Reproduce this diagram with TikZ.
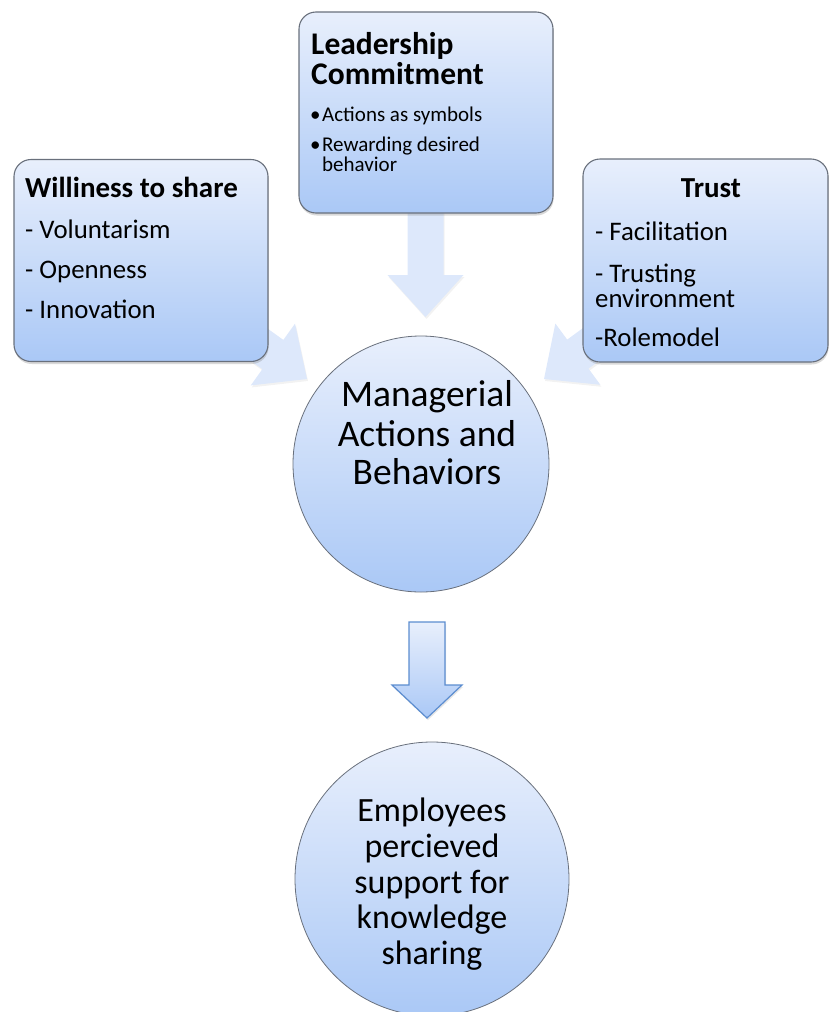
\documentclass[tikz,border=0pt]{standalone}
\usepackage{fontspec}
\setmainfont{Carlito}
\usetikzlibrary{shadows,calc}

\definecolor{boxtop}{RGB}{232,239,252}
\definecolor{boxbot}{RGB}{170,200,246}
\definecolor{edgegray}{RGB}{105,112,124}
\definecolor{pale}{RGB}{221,232,251}
\definecolor{arrowedge}{RGB}{92,141,208}

\tikzset{
  infobox/.style={draw=edgegray, line width=1.1pt, rounded corners=17pt,
    top color=boxtop, bottom color=boxbot, inner sep=0pt,
    drop shadow={opacity=0.3, shadow xshift=0.6pt, shadow yshift=-2.5pt}},
  bubble/.style={circle, draw=edgegray, line width=0.8pt,
    top color=boxtop, bottom color=boxbot, inner sep=0pt},
  feed/.style={fill=pale, drop shadow={opacity=0.1, shadow xshift=1pt, shadow yshift=-2pt}},
  flow/.style={draw=arrowedge, line width=1.2pt, top color=boxtop, bottom color=boxbot,
    drop shadow={opacity=0.2, shadow xshift=1pt, shadow yshift=-2pt}},
  head/.style={font=\bfseries\fontsize{29}{31}\selectfont, inner sep=0pt, anchor=base west},
  bighead/.style={font=\bfseries\fontsize{31.5}{33}\selectfont, inner sep=0pt, anchor=base west},
  item/.style={font=\fontsize{26.8}{28}\selectfont, inner sep=0pt, anchor=base west},
  smallitem/.style={font=\fontsize{21}{23}\selectfont, inner sep=0pt, anchor=base west},
  core/.style={font=\fontsize{37.5}{40}\selectfont, inner sep=0pt, anchor=base},
  coretwo/.style={font=\fontsize{34}{36}\selectfont, inner sep=0pt, anchor=base},
}

% wide pale block arrow from start #1 to tip #2 (shaft 36, head 76 wide, 42 long)
\newcommand{\feedarrow}[2]{%
  \coordinate (hb) at ($(#2)!42pt!(#1)$);
  \path[feed] ($(#1)!18pt!90:(#2)$) -- ($(hb)!18pt!90:(#2)$) -- ($(hb)!38pt!90:(#2)$)
    -- (#2) -- ($(hb)!38pt!-90:(#2)$) -- ($(hb)!18pt!-90:(#2)$)
    -- ($(#1)!18pt!-90:(#2)$) -- cycle;
}

\begin{document}
\begin{tikzpicture}[x=1pt,y=-1pt]
\useasboundingbox (0,0) rectangle (829,1012);

% anchor points of the three feeding arrows
\coordinate (ls) at (141,260);
\coordinate (lt) at (307,379);
\coordinate (ts) at (425.5,150);
\coordinate (tt) at (425.5,317);
\coordinate (rs) at (706,260);
\coordinate (rt) at (544,379);

\feedarrow{ls}{lt}
\feedarrow{ts}{tt}
\feedarrow{rs}{rt}

% three input boxes
\node[infobox, minimum width=254pt, minimum height=202pt] (willbox) at (141,260.5) {};
\node[infobox, minimum width=254pt, minimum height=201pt] (leadbox) at (426,112.5) {};
\node[infobox, minimum width=245pt, minimum height=203pt] (trustbox) at (705.5,260.5) {};

% central and final circles
\node[bubble, minimum size=256pt] (mab) at (421,464) {};
\node[bubble, minimum size=274pt] (eps) at (432,879) {};

% arrow between the two circles
\coordinate (fa) at (427,622);
\coordinate (fb) at (427,718);
\path[flow] ($(fa)+(-18,0)$) -- ($(fa)+(18,0)$) -- ($(fb)+(18,-33)$) -- ($(fb)+(35,-33)$)
  -- (fb) -- ($(fb)+(-35,-33)$) -- ($(fb)+(-18,-33)$) -- cycle;

% texts of the left box
\node[head] (w0) at (25,197) {Williness to share};
\node[item] (w1) at (25,238) {- Voluntarism};
\node[item] (w2) at (25,278) {- Openness};
\node[item] (w3) at (25,318) {- Innovation};

% texts of the top box
\node[bighead] (l0) at (311,54) {Leadership};
\node[bighead] (l1) at (311,84) {Commitment};
\node[smallitem] (b1) at (310,121) {•};
\node[smallitem] (l2) at (322,121) {Actions as symbols};
\node[smallitem] (b2) at (310,151.5) {•};
\node[smallitem] (l3) at (322,151.5) {Rewarding desired};
\node[smallitem] (l4) at (322,171.5) {behavior};

% texts of the right box
\node[head, anchor=base] (t0) at (711,197) {Trust};
\node[item] (t1) at (595,240) {- Facilitation};
\node[item] (t2) at (595,282) {- Trusting};
\node[item] (t3) at (595,307) {environment};
\node[item] (t4) at (595,346) {-Rolemodel};

% circle texts
\node[core] (m1) at (427,406.5) {Managerial};
\node[core] (m2) at (427,446) {Actions and};
\node[core] (m3) at (427,484) {Behaviors};

\node[coretwo] (e1) at (432,821) {Employees};
\node[coretwo] (e2) at (432,857) {percieved};
\node[coretwo] (e3) at (432,893) {support for};
\node[coretwo] (e4) at (432,928) {knowledge};
\node[coretwo] (e5) at (432,964) {sharing};
\end{tikzpicture}
\end{document}
